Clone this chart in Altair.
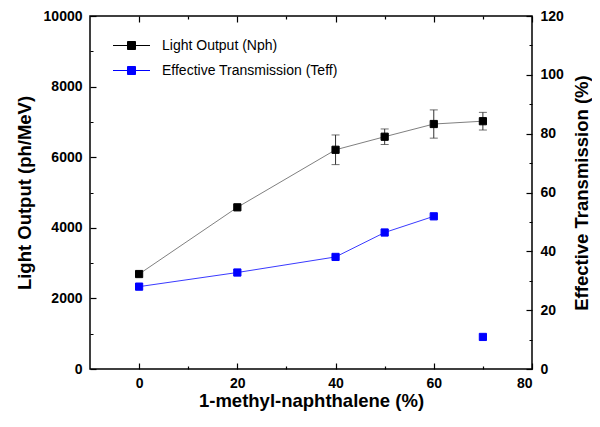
import altair as alt
import pandas as pd

# ---- data ----
conc = [0, 20, 40, 50, 60, 70]
light = [2690, 4580, 6210, 6580, 6940, 7020]
light_err = [0, 0, 420, 220, 400, 250]
trans = [28.0, 32.8, 38.1, 46.4, 51.9, 10.9]
trans_connected = [True, True, True, True, True, False]

x_ticks = [0, 10, 20, 30, 40, 50, 60, 70, 80]
yl_ticks = [0, 1000, 2000, 3000, 4000, 5000, 6000, 7000, 8000, 9000, 10000]
yr_ticks = [0, 10, 20, 30, 40, 50, 60, 70, 80, 90, 100, 110, 120]

LABEL_LO = "Light Output (Nph)"
LABEL_TR = "Effective Transmission (Teff)"

df_lo = pd.DataFrame({"x": conc, "y": light, "err": light_err, "series": LABEL_LO})
df_lo["lo"] = df_lo["y"] - df_lo["err"]
df_lo["hi"] = df_lo["y"] + df_lo["err"]
df_err = df_lo[df_lo["err"] > 0]
df_tr = pd.DataFrame({"x": conc, "y": trans, "conn": trans_connected, "series": LABEL_TR})
df_tr_line = df_tr[df_tr["conn"]]

FONT = "Liberation Sans"

xs = alt.Scale(domain=[-10, 80], nice=False, zero=False)
yls = alt.Scale(domain=[0, 10000], nice=False)
yrs = alt.Scale(domain=[0, 120], nice=False)

TL = 6  # major tick length (inward)


def tdash(step):
    # minor ticks: only the half nearest the frame is drawn
    return {"condition": {"test": f"datum.value % {step} !== 0", "value": [0, 3, 3, 20]},
            "value": [20, 0]}


def lab(step):
    return f"datum.value % {step} === 0 ? datum.label : ''"


common = dict(domain=False, offset=-TL, tickSize=TL)

x_bottom = alt.Axis(orient="bottom", values=x_ticks, tickDash=tdash(20), labelPadding=7,
                    labelExpr=lab(20), titlePadding=1, **common)
x_top = alt.Axis(orient="top", values=x_ticks, tickDash=tdash(20), labels=False, title=None,
                 **common)
yl_axis = alt.Axis(orient="left", values=yl_ticks, tickDash=tdash(2000), labelPadding=8, format="d",
                   labelExpr=lab(2000), titlePadding=9, **common)
yr_axis = alt.Axis(orient="right", values=yr_ticks, tickDash=tdash(20), labelPadding=8, format="d",
                   labelExpr=lab(20), titleAngle=270, titlePadding=28, **common)

XT = "1-methyl-naphthalene (%)"
YLT = "Light Output (ph/MeV)"
YRT = "Effective Transmission (%)"

PATH = "M-1.85,0H-0.4M0.4,0H1.85M-0.4,-0.4H0.4V0.4H-0.4Z"
legend = alt.Legend(title=None, orient="none", legendX=31, legendY=19,
                    symbolType=PATH, symbolSize=400, symbolStrokeWidth=1,
                    labelFont=FONT, labelFontSize=14, labelColor="black", labelLimit=400,
                    labelOffset=20, rowPadding=7, padding=0)
color_scale = alt.Scale(domain=[LABEL_LO, LABEL_TR], range=["black", "#0000ff"])

xb = alt.X("x:Q", scale=xs, axis=x_bottom, title=XT)
xt = alt.X("x:Q", scale=xs, axis=x_top)

lo_line = alt.Chart(df_lo).mark_line(color="#808080", strokeWidth=1).encode(
    x=xb, y=alt.Y("y:Q", scale=yls, axis=yl_axis, title=YLT))
lo_rule = alt.Chart(df_err).mark_rule(color="#333333", strokeWidth=1).encode(
    x=xb, y=alt.Y("lo:Q", scale=yls, axis=yl_axis, title=YLT), y2="hi:Q")
lo_cap1 = alt.Chart(df_err).mark_tick(orient="horizontal", size=8, thickness=1, color="#333333").encode(
    x=xb, y=alt.Y("lo:Q", scale=yls, axis=yl_axis, title=YLT))
lo_cap2 = alt.Chart(df_err).mark_tick(orient="horizontal", size=8, thickness=1, color="#333333").encode(
    x=xb, y=alt.Y("hi:Q", scale=yls, axis=yl_axis, title=YLT))
lo_pts = alt.Chart(df_lo).mark_square(size=52, filled=True, opacity=1, strokeWidth=1).encode(
    x=xb, y=alt.Y("y:Q", scale=yls, axis=yl_axis, title=YLT),
    color=alt.Color("series:N", scale=color_scale, legend=legend),
    stroke=alt.Stroke("series:N", scale=color_scale, legend=legend))

tr_line = alt.Chart(df_tr_line).mark_line(color="#3a3aff", strokeWidth=1).encode(
    x=xt, y=alt.Y("y:Q", scale=yrs, axis=yr_axis, title=YRT))
tr_pts = alt.Chart(df_tr).mark_square(size=52, filled=True, opacity=1, strokeWidth=1).encode(
    x=xt, y=alt.Y("y:Q", scale=yrs, axis=yr_axis, title=YRT),
    color=alt.Color("series:N", scale=color_scale, legend=legend),
    stroke=alt.Stroke("series:N", scale=color_scale, legend=legend))

left = alt.layer(lo_line, lo_rule, lo_cap1, lo_cap2, lo_pts)
right = alt.layer(tr_line, tr_pts)

chart = alt.layer(left, right).resolve_scale(y="independent").resolve_axis(
    x="independent", y="independent").properties(
    width=442, height=353,
    autosize=alt.AutoSizeParams(type="none"),
    padding={"left": 82, "top": 8, "right": 60, "bottom": 43},
).configure_view(stroke="black", strokeWidth=1.5).configure_axis(
    labelFont=FONT, labelFontSize=14, labelFontWeight="bold", labelColor="black",
    titleFont=FONT, titleFontSize=18.5, titleFontWeight="bold", titleColor="black",
    tickColor="black", tickWidth=1.2,
    grid=False,
)

chart.save("out.html", embed_options={"renderer": "svg", "actions": False})
